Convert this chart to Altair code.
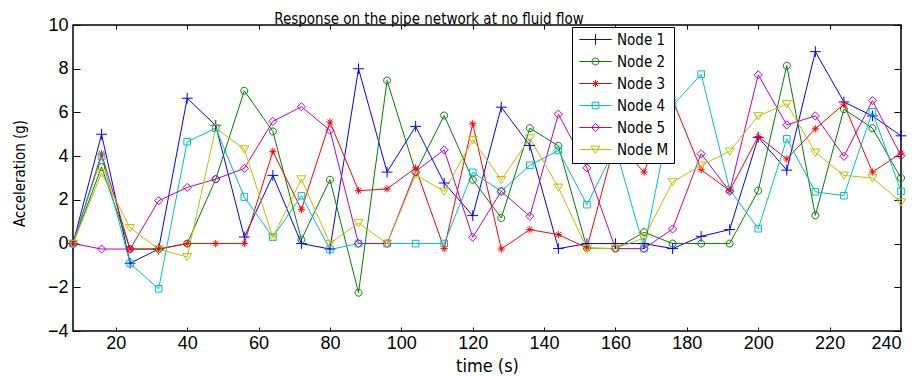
import altair as alt
import pandas as pd

# ---- data ----
times = [8, 16, 24, 32, 40, 48, 56, 64, 72, 80,
         88, 96, 104, 112, 120, 128, 136, 144, 152,
         160, 168, 176, 184, 192, 200, 208, 216, 224, 232, 240]

nodes = ["Node 1", "Node 2", "Node 3", "Node 4", "Node 5", "Node M"]

node1 = [0, 5.0, -0.9, -0.25, 6.65, 5.4, 0.3, 3.12, 0, -0.25,
         8.0, 3.27, 5.36, 2.77, 1.28, 6.24, 4.49, -0.23, 0,
         0, 0, -0.23, 0.33, 0.64, 4.86, 3.36, 8.78, 6.48, 5.84, 4.93]
node2 = [0, 3.5, -0.25, -0.25, 0, 2.95, 6.99, 5.13, 0.18, 2.92,
         -2.25, 7.46, 3.26, 5.86, 2.92, 1.17, 5.28, 4.47, -0.2,
         -0.23, 0.52, 0, 0, 0, 2.42, 8.14, 1.29, 6.15, 5.28, 3.0]
node3 = [0, 4.11, -0.25, -0.25, 0, 0, 0, 4.22, 1.55, 5.56,
         2.42, 2.5, 3.46, -0.23, 5.48, -0.25, 0.64, 0.41, -0.2,
         4.7, 3.27, 6.58, 3.38, 2.42, 4.9, 3.87, 5.25, 6.38, 3.27, 4.14]
node4 = [0, 3.99, -0.91, -2.07, 4.66, 5.28, 2.13, 0.29, 2.19, -0.27,
         0, 0, 0, 0, 3.26, 2.39, 3.58, 4.26, 1.78,
         4.4, -0.23, 6.3, 7.75, 2.47, 0.68, 4.79, 2.37, 2.19, 6.03, 2.39]
node5 = [0, -0.25, -0.25, 1.96, 2.57, 2.95, 3.44, 5.59, 6.26, 5.18,
         0, 0, 3.3, 4.29, 0.29, 2.39, 1.25, 5.92, 3.46,
         -0.23, -0.23, 0.67, 4.11, 2.39, 7.72, 5.43, 5.84, 3.99, 6.54, 4.02]
nodeM = [0, 3.23, 0.72, -0.25, -0.61, 5.28, 4.32, 0.29, 2.95, 0,
         0.94, 0, 3.15, 2.39, 4.75, 2.92, 4.82, 2.57, -0.23,
         -0.23, 0.26, 2.82, 3.58, 4.22, 5.84, 6.39, 4.17, 3.12, 3.0, 1.9]

x_ticks = [20, 40, 60, 80, 100, 120, 140, 160, 180, 200, 220, 240]
y_ticks = [-4, -2, 0, 2, 4, 6, 8, 10]

colors = ["#0000FF", "#008000", "#FF0000", "#00BFBF", "#BF00BF", "#BFBF00"]

series = [node1, node2, node3, node4, node5, nodeM]
rows = []
for name, vals in zip(nodes, series):
    for t, v in zip(times, vals):
        rows.append({"t": t, "a": v, "node": name})
df = pd.DataFrame(rows)

# ---- styling ----
COND = "'Liberation Sans Narrow', 'DejaVu Sans Condensed', 'Roboto Condensed', 'Arial Narrow', sans-serif"
NUM = "'Liberation Sans', Arial, sans-serif"

marker_paths = [
    "M-0.9,0H0.9M0,-0.9V0.9",                                              # plus
    "M-0.58,0A0.58,0.58 0 1,0 0.58,0A0.58,0.58 0 1,0 -0.58,0Z",            # circle
    "M-0.6,0H0.6M0,-0.6V0.6M-0.42,-0.42L0.42,0.42M-0.42,0.42L0.42,-0.42",  # asterisk
    "M-0.55,-0.55H0.55V0.55H-0.55Z",                                       # square
    "M0,-0.68L0.68,0L0,0.68L-0.68,0Z",                                     # diamond
    "M-0.75,-0.55H0.75L0,0.65Z",                                           # triangle down
]
legend_paths = [p + "M-2.7,0H2.7" for p in marker_paths]

xs = alt.Scale(domain=[8, 240], nice=False, zero=False)
ys = alt.Scale(domain=[-4, 10], nice=False, zero=False)
cscale = alt.Scale(domain=nodes, range=colors)

base = alt.Chart(df)

lines = base.mark_line(strokeWidth=1).encode(
    x=alt.X("t:Q", scale=xs, axis=alt.Axis(
        orient="bottom", values=x_ticks, title="time (s)", offset=-4, tickSize=4,
        domain=False, grid=False, labelPadding=3, titlePadding=5, titleFontSize=18)),
    y=alt.Y("a:Q", scale=ys, axis=alt.Axis(
        orient="left", values=y_ticks, title="Acceleration (g)", offset=-7, tickSize=7,
        domain=False, grid=False, labelPadding=5, titlePadding=20, titleFontSize=15,
        titleY=148)),
    color=alt.Color("node:N", scale=cscale, legend=None),
)

points = base.mark_point(filled=False, size=144, strokeWidth=1, opacity=1).encode(
    x=alt.X("t:Q", scale=xs, axis=alt.Axis(
        orient="top", values=x_ticks, labels=False, title=None, offset=-4, tickSize=4,
        domain=False, grid=False)),
    y=alt.Y("a:Q", scale=ys, axis=alt.Axis(
        orient="right", values=y_ticks, labels=False, title=None, offset=-7, tickSize=7,
        domain=False, grid=False)),
    color=alt.Color("node:N", scale=cscale, legend=None),
    shape=alt.Shape("node:N", scale=alt.Scale(domain=nodes, range=marker_paths), legend=None),
)

leg = alt.Legend(
    orient="none", legendX=499, legendY=2, title=None,
    fillColor="white", strokeColor="black", padding=5,
    symbolSize=144, symbolStrokeWidth=1, symbolOffset=11,
    labelFont=COND, labelFontSize=15, labelOffset=14, labelColor="black",
    rowPadding=6,
)

legend_layer = base.mark_point(filled=False, size=144, strokeWidth=1, opacity=1).encode(
    x=alt.X("t:Q", scale=xs, axis=None),
    y=alt.Y("a:Q", scale=ys, axis=None),
    color=alt.Color("node:N", scale=cscale, legend=leg),
    shape=alt.Shape("node:N", scale=alt.Scale(domain=nodes, range=legend_paths), legend=leg),
).transform_filter("datum.t < 0")

chart = alt.layer(lines, points, legend_layer).resolve_scale(
    color="independent", shape="independent"
).resolve_axis(
    x="independent", y="independent"
).properties(
    width=828, height=306,
    title=alt.Title("Response on the pipe network at no fluid flow", font=COND, fontSize=15,
                    fontWeight="normal", color="black", anchor="middle", frame="group",
                    dx=-58, dy=25, offset=2, baseline="alphabetic"),
    padding={"left": 73, "top": 25, "right": 20, "bottom": 45},
    autosize=alt.AutoSizeParams(type="none"),
).configure_view(
    stroke="black", strokeWidth=1.5
).configure_axis(
    labelFont=NUM, labelFontSize=18, labelColor="black",
    titleFont=COND, titleFontWeight="normal", titleColor="black",
    tickColor="black", tickWidth=1,
)

chart.save("out.html", embed_options={"renderer": "svg", "actions": False})
